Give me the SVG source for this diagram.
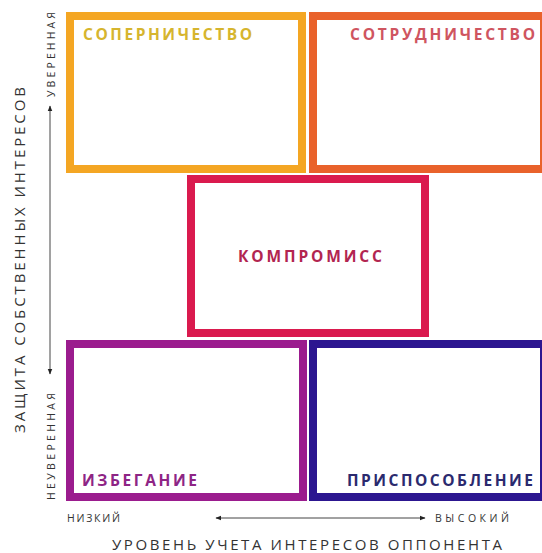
<svg xmlns="http://www.w3.org/2000/svg" width="542" height="553" viewBox="0 0 542 553">
<defs>
<style>
.box{fill:#fff;stroke-width:8}
.lbl{font-family:"Open Sans","Liberation Sans",sans-serif;font-weight:bold;font-size:15.5px}
.ax{font-family:"Open Sans","Liberation Sans",sans-serif;fill:#333}
.axl{stroke:#444;stroke-width:1;fill:none}
</style>
<marker id="ah" viewBox="0 0 10 10" refX="9" refY="5" markerWidth="6" markerHeight="6" orient="auto-start-reverse" markerUnits="userSpaceOnUse">
<path d="M0,1 L10,5 L0,9 z" fill="#222"/>
</marker>
</defs>
<rect width="542" height="553" fill="#fff"/>
<g id="sopernichestvo">
<rect class="box" x="70" y="16" width="232" height="153" stroke="#F4A623"/>
<text class="lbl" x="83" y="40" fill="#D6B52E" textLength="169" lengthAdjust="spacing">СОПЕРНИЧЕСТВО</text>
</g>
<g id="sotrudnichestvo">
<rect class="box" x="313" y="16" width="231" height="153" stroke="#E9622B"/>
<text class="lbl" x="350" y="40" fill="#CF5560" textLength="185" lengthAdjust="spacing">СОТРУДНИЧЕСТВО</text>
</g>
<g id="kompromiss">
<rect class="box" x="191" y="179" width="234" height="154" stroke="#DA1A4E"/>
<text class="lbl" x="238" y="262" fill="#B22550" textLength="144" lengthAdjust="spacing">КОМПРОМИСС</text>
</g>
<g id="izbeganie">
<rect class="box" x="70" y="344" width="233" height="153" stroke="#9B1C8E"/>
<text class="lbl" x="82" y="486" fill="#8E2585" textLength="115" lengthAdjust="spacing">ИЗБЕГАНИЕ</text>
</g>
<g id="prisposoblenie">
<rect class="box" x="313" y="344" width="231" height="153" stroke="#2C1690"/>
<text class="lbl" x="347" y="486" fill="#2B2A6E" textLength="186" lengthAdjust="spacing">ПРИСПОСОБЛЕНИЕ</text>
</g>
<g id="connectors">
<line class="axl" x1="50" y1="374" x2="50" y2="106" marker-start="url(#ah)" marker-end="url(#ah)"/>
<line class="axl" x1="216" y1="518" x2="425" y2="518" marker-start="url(#ah)" marker-end="url(#ah)"/>
</g>
<g id="axes">
<text class="ax" font-size="10.5" transform="translate(55,97) rotate(-90)" textLength="85" lengthAdjust="spacing">УВЕРЕННАЯ</text>
<text class="ax" font-size="10.5" transform="translate(55,500) rotate(-90)" textLength="107" lengthAdjust="spacing">НЕУВЕРЕННАЯ</text>
<text class="ax" font-size="15" transform="translate(25,433) rotate(-90)" textLength="346" lengthAdjust="spacing">ЗАЩИТА СОБСТВЕННЫХ ИНТЕРЕСОВ</text>
<text class="ax" font-size="10.5" x="67" y="522" textLength="53" lengthAdjust="spacing">НИЗКИЙ</text>
<text class="ax" font-size="10.5" x="435" y="522" textLength="74" lengthAdjust="spacing">ВЫСОКИЙ</text>
<text class="ax" font-size="15" x="112" y="550" textLength="390" lengthAdjust="spacing">УРОВЕНЬ УЧЕТА ИНТЕРЕСОВ ОППОНЕНТА</text>
</g>
</svg>
